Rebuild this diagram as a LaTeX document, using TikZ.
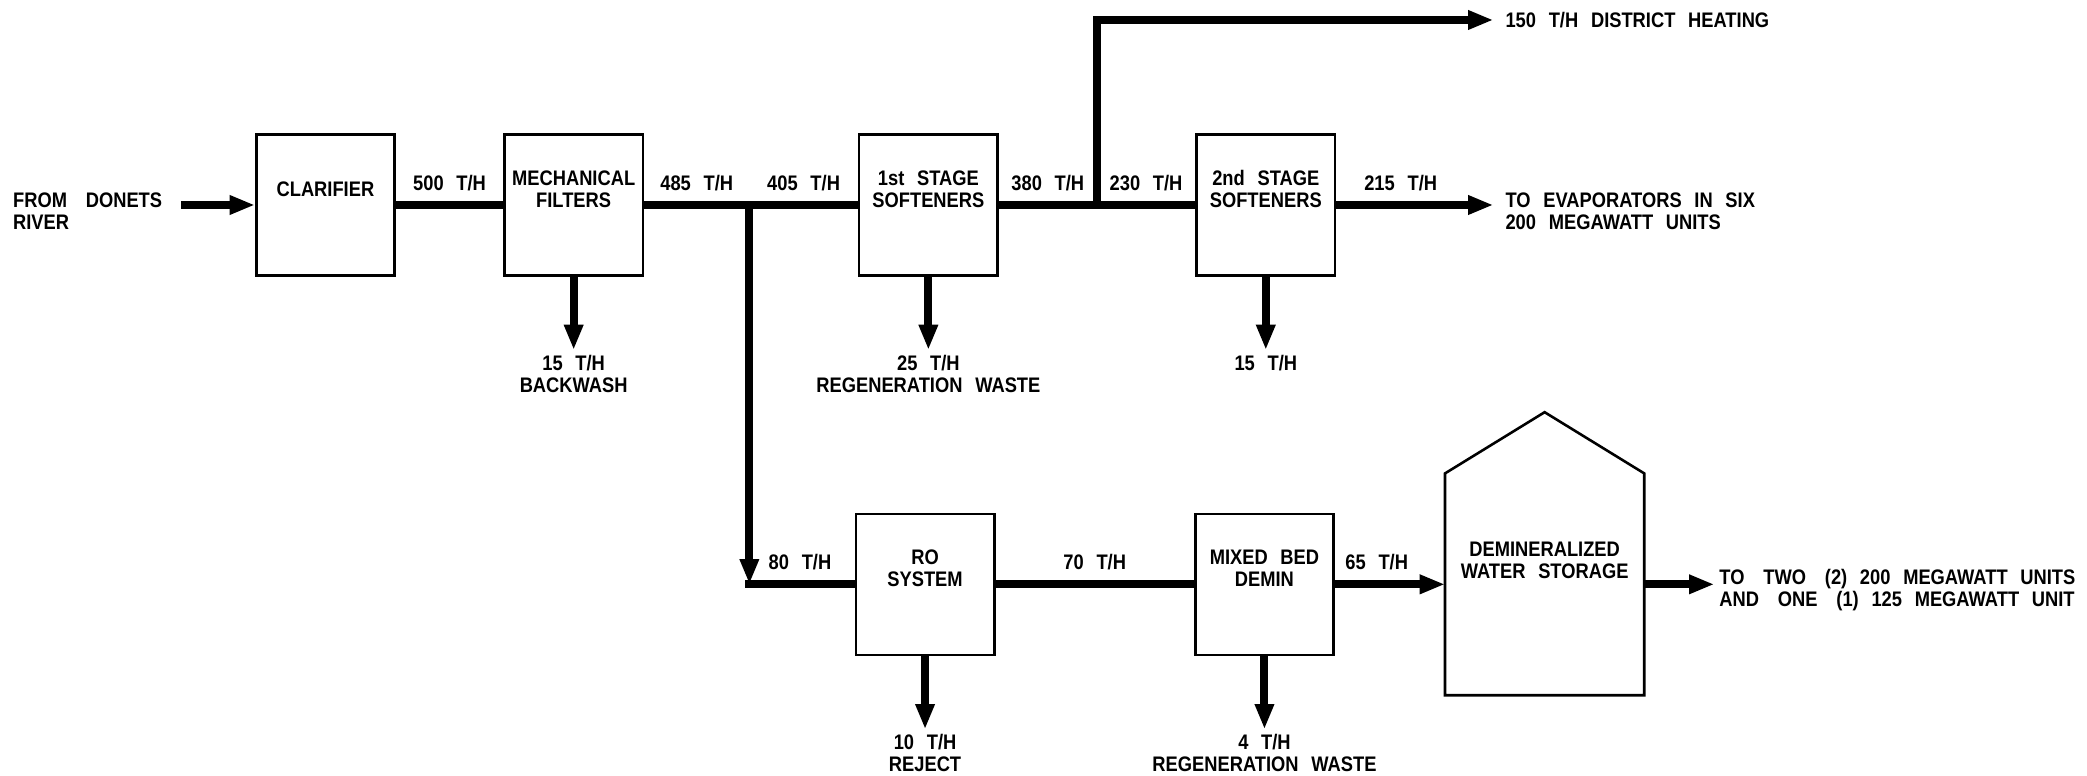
\documentclass[tikz,border=0pt]{standalone}
\usepackage{fontspec}
\setmainfont{Liberation Sans}[FakeStretch=0.87,WordSpace=2.5]
\usepackage{tikz}
\usetikzlibrary{arrows.meta,positioning}
\newcommand{\wgap}{\hspace{2.6pt}}

\begin{document}
\begin{tikzpicture}[x=0.02cm,y=-0.02cm,font=\bfseries\fontsize{9}{9.3}\selectfont]
	\tikzstyle{unit} = [rectangle, draw, line width=1.1pt, minimum width=2.08cm, minimum height=2.12cm, inner sep=0pt];
	\tikzstyle{tank} = [rectangle, minimum width=2.98cm, minimum height=3.32cm, inner sep=0pt];
	\tikzstyle{boxtext} = [align=center, inner sep=0pt, yshift=0.24cm];
	\tikzstyle{pipe} = [line width=3.4pt];
	\tikzstyle{flow} = [line width=3.4pt, -{Triangle[length=0.38cm,width=0.27cm]}];
	\tikzstyle{rate} = [midway, above=2.3pt, inner sep=2pt];
	\tikzstyle{outlet} = [align=center, inner sep=2pt];
	\tikzstyle{dest} = [align=left, inner xsep=5pt, inner ysep=2pt];
	
	\useasboundingbox (0,0) rectangle (1568,583);
	
	% softening line
	\node[dest, inner xsep=2pt, anchor=north west] (river) at (6,141) {FROM \wgap DONETS\\RIVER};
	\coordinate (src) at (136,154);
	\node[unit, label={[boxtext]center:CLARIFIER}] (clar) at (244.5,154) {};
	\node[unit, label={[boxtext]center:{MECHANICAL\\FILTERS}}] (filt) at (431,154) {};
	\node[unit, label={[boxtext]center:{1st STAGE\\SOFTENERS}}] (soft1) at (697.5,154) {};
	\node[unit, label={[boxtext]center:{2nd STAGE\\SOFTENERS}}] (soft2) at (951,154) {};
	\coordinate (jn) at (563,154);
	\coordinate (br) at (824,154);
	\coordinate (evap) at (1122,154);
	\node[dest, anchor=west] (dh) at (1122,15) {150 T/H DISTRICT HEATING};
	\node[dest, anchor=north west] (evtxt) at (1122,141) {TO EVAPORATORS IN SIX\\200 MEGAWATT UNITS};
	
	\node[outlet, below=1.1cm of filt] (bw) {15 T/H\\BACKWASH};
	\node[outlet, below=1.1cm of soft1] (w1) {25 T/H\\REGENERATION WASTE};
	\node[outlet, below=1.1cm of soft2] (w2) {15 T/H};
	
	\draw[flow] (src) -- (clar);
	\draw[pipe] (clar) -- node[rate] (r500) {500 T/H} (filt);
	\draw[pipe] (filt) -- node[rate] (r485) {485 T/H} (jn);
	\draw[pipe] (jn) -- node[rate] (r405) {405 T/H} (soft1);
	\draw[pipe] (soft1) -- node[rate] (r380) {380 T/H} (br);
	\draw[pipe] (br) -- node[rate] (r230) {230 T/H} (soft2);
	\draw[flow] (soft2) -- node[rate, pos=0.41] (r215) {215 T/H} (evap);
	\draw[flow] (br) |- (dh);
	
	\draw[flow] (filt) -- (bw);
	\draw[flow] (soft1) -- (w1);
	\draw[flow] (soft2) -- (w2);
	
	% demineralizing line
	\coordinate (cr) at (563,439);
	\node[unit, label={[boxtext]center:{RO\\SYSTEM}}] (ro) at (695,439) {};
	\node[unit, label={[boxtext]center:{MIXED BED\\DEMIN}}] (mbd) at (950,439) {};
	\node[tank, label={[boxtext, yshift=0.12cm]center:{DEMINERALIZED\\WATER STORAGE}}] (stor) at (1160.5,439) {};
	\draw[line width=1.1pt] (stor.south west) -- (stor.north west) -- ([yshift=0.92cm]stor.north) -- (stor.north east) -- (stor.south east) -- cycle;
	\coordinate (out) at (1288,439);
	\node[dest, inner xsep=2pt, anchor=north west] (units) at (1288,424) {TO \wgap TWO \wgap (2) 200 MEGAWATT UNITS\\AND \wgap ONE \wgap (1) 125 MEGAWATT UNIT};
	
	\node[outlet, below=1.1cm of ro] (rej) {10 T/H\\REJECT};
	\node[outlet, below=1.1cm of mbd] (w3) {4 T/H\\REGENERATION WASTE};
	
	\draw[flow] (jn) -- (cr);
	\draw[pipe] ([xshift=-1.7pt]cr) -- node[rate] (r80) {80 T/H} (ro);
	\draw[pipe] (ro) -- node[rate] (r70) {70 T/H} (mbd);
	\draw[flow] (mbd) -- node[rate, pos=0.38] (r65) {65 T/H} (stor);
	\draw[flow] (stor) -- (out);
	
	\draw[flow] (ro) -- (rej);
	\draw[flow] (mbd) -- (w3);
\end{tikzpicture}
\end{document}
